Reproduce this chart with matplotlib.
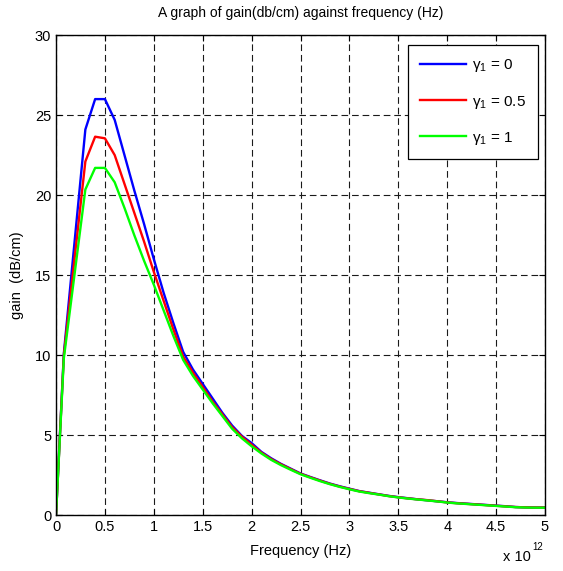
import numpy as np
import matplotlib.pyplot as plt

plt.rcParams['font.family'] = ['Liberation Sans', 'DejaVu Sans']
plt.rcParams['mathtext.fontset'] = 'custom'
plt.rcParams['mathtext.rm'] = 'Liberation Sans'
plt.rcParams['mathtext.it'] = 'Liberation Sans'

# frequency in units of 1e12 Hz
freq = [0, 0.08, 0.3, 0.4, 0.5, 0.6, 0.7, 0.8, 0.9, 1.0,
        1.1, 1.2, 1.3, 1.4, 1.5, 1.6, 1.7, 1.8, 1.9, 2.0,
        2.1, 2.2, 2.3, 2.4, 2.5, 2.6, 2.7, 2.8, 2.9, 3.0,
        3.1, 3.2, 3.3, 3.4, 3.5, 3.6, 3.7, 3.8, 3.9, 4.0,
        4.1, 4.2, 4.3, 4.4, 4.5, 4.6, 4.7, 4.8, 4.9, 5.0]

# gain (dB/cm) for gamma_1 = 0, 0.5, 1
gain_g0 = [0, 10.1, 24.1, 26.0, 26.0, 24.7, 22.5, 20.3, 18.2, 16.0,
           13.9, 12.0, 10.2, 9.1, 8.2, 7.3, 6.4, 5.6, 4.95, 4.5,
           3.95, 3.55, 3.2, 2.9, 2.6, 2.38, 2.17, 1.97, 1.8, 1.65,
           1.5, 1.4, 1.3, 1.2, 1.12, 1.05, 0.98, 0.92, 0.86, 0.8,
           0.75, 0.71, 0.67, 0.63, 0.59, 0.55, 0.5, 0.48, 0.47, 0.47]
gain_g05 = [0, 10.0, 22.1, 23.65, 23.55, 22.5, 20.7, 18.9, 17.1, 15.2,
            13.4, 11.6, 9.9, 8.9, 8.0, 7.1, 6.3, 5.5, 4.9, 4.4,
            3.9, 3.5, 3.17, 2.87, 2.58, 2.36, 2.15, 1.95, 1.78, 1.63,
            1.49, 1.39, 1.29, 1.19, 1.11, 1.04, 0.98, 0.93, 0.86, 0.79,
            0.74, 0.7, 0.66, 0.62, 0.58, 0.54, 0.5, 0.48, 0.47, 0.47]
gain_g1 = [0, 9.8, 20.35, 21.7, 21.7, 20.8, 19.2, 17.5, 15.9, 14.4,
           12.8, 11.2, 9.7, 8.7, 7.85, 7.0, 6.2, 5.4, 4.8, 4.3,
           3.85, 3.45, 3.12, 2.83, 2.55, 2.33, 2.12, 1.93, 1.76, 1.61,
           1.47, 1.37, 1.28, 1.18, 1.1, 1.03, 0.97, 0.91, 0.85, 0.78,
           0.73, 0.69, 0.65, 0.61, 0.57, 0.53, 0.49, 0.47, 0.46, 0.46]

labels = [r'$\mathregular{\gamma_1}$ = 0', r'$\mathregular{\gamma_1}$ = 0.5', r'$\mathregular{\gamma_1}$ = 1']
colors = ['#0000ff', '#ff0000', '#00ff00']

fig = plt.figure(figsize=(5.63, 5.71), dpi=100)
ax = fig.add_axes([0.0995, 0.098, 0.8685, 0.8405])

for g, lab, c in zip([gain_g0, gain_g05, gain_g1], labels, colors):
    ax.plot(freq, g, color=c, lw=1.7, label=lab)

ax.set_xlim(0, 5)
ax.set_ylim(0, 30)
ax.set_xticks(np.arange(0, 5.01, 0.5))
ax.set_xticklabels(['0', '0.5', '1', '1.5', '2', '2.5', '3', '3.5', '4', '4.5', '5'])
ax.set_yticks(np.arange(0, 31, 5))
ax.tick_params(direction='in', top=True, right=True, length=4, labelsize=10.5, width=0.8)
ax.grid(True, color='#1a1a1a', linestyle=(0, (6, 3.5)), linewidth=0.8)
for s in ax.spines.values():
    s.set_linewidth(1.0)

ax.set_title('A graph of gain(db/cm) against frequency (Hz)', fontsize=10, pad=13)
ax.set_xlabel('Frequency (Hz)', fontsize=10.5, labelpad=7)
ax.set_ylabel('gain  (dB/cm)', fontsize=10.5, labelpad=8)
# MATLAB-style axis multiplier
ax.text(0.972, -0.088, 'x 10', transform=ax.transAxes,
        ha='right', va='center', fontsize=10.5)
ax.text(0.975, -0.066, '12', transform=ax.transAxes,
        ha='left', va='center', fontsize=7)

leg = ax.legend(loc='upper right', fontsize=11, fancybox=False, framealpha=1,
                edgecolor='black', labelspacing=1.25, handlelength=3.0,
                handletextpad=0.4, borderpad=0.8, borderaxespad=0,
                bbox_to_anchor=(0.9857, 0.979))
leg.get_frame().set_linewidth(0.9)

fig.savefig('out.png', dpi=100)
